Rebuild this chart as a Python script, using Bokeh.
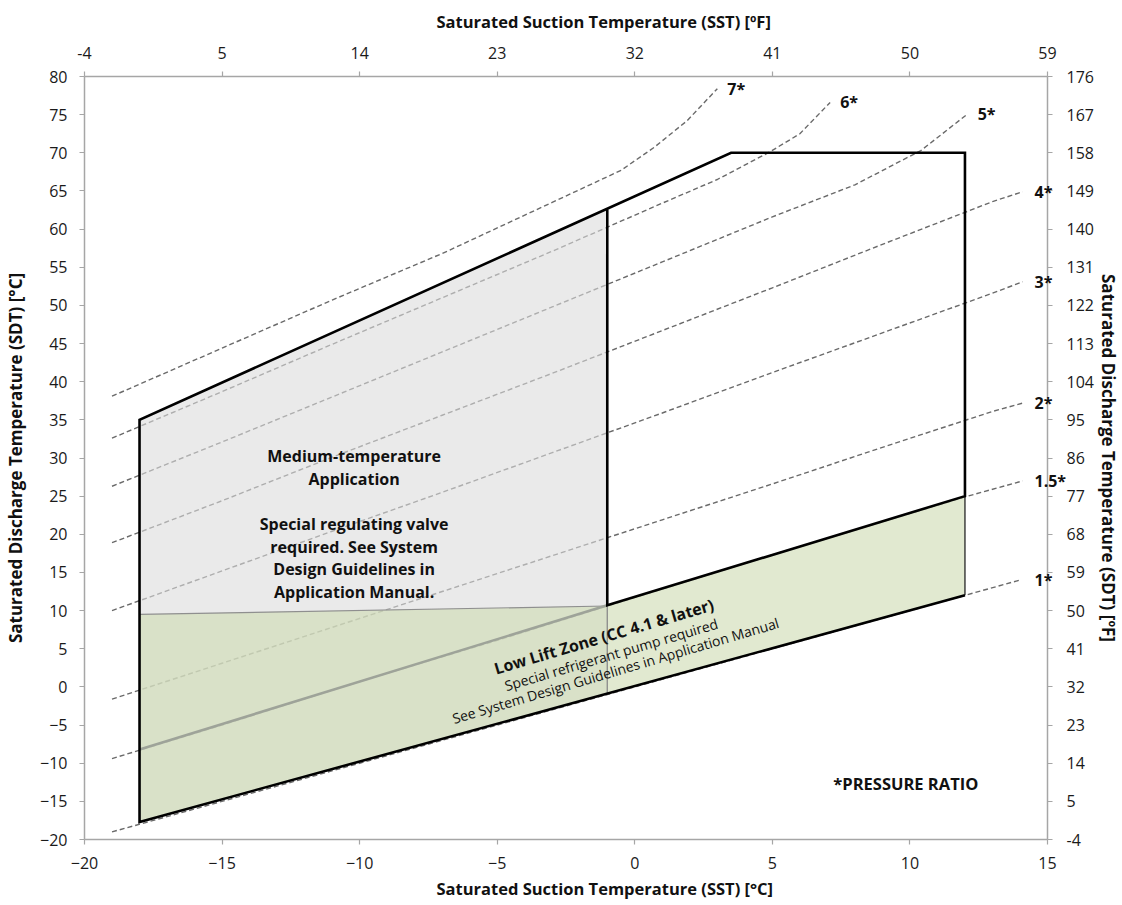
from bokeh.plotting import figure
from bokeh.models import LinearAxis, FixedTicker, LabelSet, ColumnDataSource, Range1d, Title
from bokeh.core.properties import value
from bokeh.embed import file_html
from bokeh.resources import INLINE

FONT = "Open Sans"

# Axis ticks in °C with the matching °F labels
sst_ticks_c = [-20, -15, -10, -5, 0, 5, 10, 15]
sst_ticks_f = ["-4", "5", "14", "23", "32", "41", "50", "59"]
sdt_ticks_c = [-20, -15, -10, -5, 0, 5, 10, 15, 20, 25, 30, 35, 40, 45, 50, 55, 60, 65, 70, 75, 80]
sdt_ticks_f = ["-4", "5", "14", "23", "32", "41", "50", "59", "68", "77", "86", "95",
               "104", "113", "122", "131", "140", "149", "158", "167", "176"]

# Operating envelope outline (SST, SDT in °C)
env_sst = [12, -18, -18, 3.5, 12, 12, -1, -1]
env_sdt = [12, -17.7, 35, 70, 70, 25, 10.7, 62.7]

# Medium-temperature application region
mt_sst = [-18, -1, -1, -18]
mt_sdt = [35, 62.7, -0.8, -17.7]

# Low lift zone
ll_sst = [-18, -1, 12, 12, -18]
ll_sdt = [9.5, 10.6, 25, 12, -17.7]

# Pressure ratio curves
pr7_sst = [-19, -15, -11, -7, -3, -0.5, 0.7, 1.9, 3.0]
pr7_sdt = [38.1, 44.4, 50.7, 56.8, 63.5, 67.7, 70.7, 74.2, 78.4]
pr6_sst = [-19, -15, -11, -7, -3, 1, 3, 4.9, 6.0, 7.1]
pr6_sdt = [32.6, 38.7, 44.9, 51.0, 57.1, 63.4, 66.5, 70.1, 72.5, 76.6]
pr5_sst = [-19, -15, -11, -7, -3, 1, 5, 8, 10.4, 12.1]
pr5_sdt = [26.3, 32.1, 38.0, 43.9, 49.8, 55.7, 61.6, 65.8, 70.3, 75.1]
pr4_sst = [-19, -15, -11, -7, -3, 1, 5, 9, 13, 14.1]
pr4_sdt = [18.9, 24.4, 30.1, 35.6, 41.1, 46.7, 52.3, 58.0, 63.6, 64.9]
pr3_sst = [-19, -15, -11, -7, -3, 1, 5, 9, 13, 14.1]
pr3_sdt = [10.0, 15.2, 20.4, 25.5, 30.7, 35.9, 41.2, 46.4, 51.6, 53.1]
pr2_sst = [-19, -15, -11, -7, -3, 1, 5, 9, 13, 14.1]
pr2_sdt = [-1.6, 3.1, 7.8, 12.5, 17.2, 21.9, 26.6, 31.4, 36.1, 37.2]
pr15_sst = [-19, -15, -10, -5, -1, 5, 12, 14.1]
pr15_sdt = [-9.4, -5.0, 0.7, 6.1, 10.6, 17.3, 24.9, 27.0]
pr1_sst = [-19, 14.0]
pr1_sdt = [-19, 14.0]

# Curves ending inside the frame, and curves ending at the right edge
inner_labels = ["7*", "6*", "5*"]
inner_curves = [(pr7_sst, pr7_sdt), (pr6_sst, pr6_sdt), (pr5_sst, pr5_sdt)]
edge_labels = ["4*", "3*", "2*", "1.5*", "1*"]
edge_curves = [(pr4_sst, pr4_sdt), (pr3_sst, pr3_sdt), (pr2_sst, pr2_sdt),
               (pr15_sst, pr15_sdt), (pr1_sst, pr1_sdt)]

p = figure(width=1122, height=905, x_range=Range1d(-20, 15), y_range=Range1d(-20, 80),
           output_backend="svg", toolbar_location=None,
           min_border_left=84, min_border_right=74, min_border_top=76, min_border_bottom=66)
p.title.visible = False
p.xgrid.visible = False
p.ygrid.visible = False
p.outline_line_color = None
p.background_fill_color = "white"
p.border_fill_color = "white"


def style_axis(ax, standoff, label_standoff):
    ax.axis_line_color = "#a6a6a6"
    ax.axis_line_width = 1.5
    ax.major_tick_line_color = "#a6a6a6"
    ax.major_tick_line_width = 1.2
    ax.major_tick_out = 5
    ax.major_tick_in = 0
    ax.minor_tick_line_color = None
    ax.major_label_text_font = FONT
    ax.major_label_text_font_size = "16px"
    ax.major_label_text_color = "#1a1a1a"
    ax.major_label_standoff = standoff
    ax.axis_label_text_font = FONT
    ax.axis_label_text_font_style = "bold"
    ax.axis_label_text_font_size = "17px"
    ax.axis_label_text_color = "#111111"
    ax.axis_label_standoff = label_standoff


xb = p.xaxis[0]
xb.ticker = FixedTicker(ticks=sst_ticks_c)
style_axis(xb, 12, 0)

yl = p.yaxis[0]
yl.ticker = FixedTicker(ticks=sdt_ticks_c)
yl.axis_label = "Saturated Discharge Temperature (SDT) [°C]"
style_axis(yl, 12, 10)

xt = LinearAxis(ticker=FixedTicker(ticks=sst_ticks_c),
                major_label_overrides=dict(zip(sst_ticks_c, sst_ticks_f)))
style_axis(xt, 13, 0)
p.add_layout(xt, "above")

yr = LinearAxis(ticker=FixedTicker(ticks=sdt_ticks_c),
                major_label_overrides=dict(zip(sdt_ticks_c, sdt_ticks_f)))
yr.axis_label = "Saturated Discharge Temperature (SDT) [ºF]"
style_axis(yr, 14, 0)
p.add_layout(yr, "right")

# Names of the curves that run out to the right edge, set beside their ends
edge_y = [c[1][-1] for c in edge_curves]
curve_axis = LinearAxis(ticker=FixedTicker(ticks=edge_y),
                        major_label_overrides=dict(zip(edge_y, edge_labels)))
curve_axis.axis_line_color = None
curve_axis.major_tick_line_color = None
curve_axis.minor_tick_line_color = None
curve_axis.major_tick_out = 0
curve_axis.major_tick_in = 0
curve_axis.major_label_standoff = -88
curve_axis.major_label_text_font = FONT
curve_axis.major_label_text_font_style = "bold"
curve_axis.major_label_text_font_size = "16px"
curve_axis.major_label_text_color = "#111111"
p.add_layout(curve_axis, "right")

# Horizontal axis titles
title_style = dict(align="left", offset=352, text_font=FONT, text_font_style="bold",
                   text_font_size="16.5px", text_color="#111111")
p.add_layout(Title(text="Saturated Suction Temperature (SST) [°C]", standoff=7,
                   vertical_align="bottom", **title_style), "below")
p.add_layout(Title(text="Saturated Suction Temperature (SST) [ºF]", standoff=17,
                   vertical_align="top", **title_style), "above")

# Pressure ratio curves (drawn beneath the shaded regions)
for xs, ys in inner_curves + edge_curves:
    p.line(xs, ys, line_color="#6a6a6a", line_width=1.4, line_dash="5 3")

# Shaded regions
p.patch(mt_sst, mt_sdt, fill_color="#dcdcdc", fill_alpha=0.6, line_color=None)
p.patch(ll_sst, ll_sdt, fill_color="#cddbb0", fill_alpha=0.6, line_color=None)

# Region borders
p.line([ll_sst[0], ll_sst[1]], [ll_sdt[0], ll_sdt[1]], line_color="#8f8f8f", line_width=1.2)
p.line([-18, -1], [-8.2, 10.7], line_color="#9ea399", line_width=2.6)
p.line([-1, -1], [10.7, -0.8], line_color="#8a8a8a", line_width=1.3)
p.line([12, 12], [25, 12], line_color="#333333", line_width=1.4)
p.line(env_sst, env_sdt, line_color="black", line_width=2.6, line_join="miter")

# Names of the curves that end inside the frame
lab_src = ColumnDataSource(dict(x=[c[0][-1] for c in inner_curves],
                                y=[c[1][-1] for c in inner_curves], text=inner_labels))
p.add_layout(LabelSet(x="x", y="y", text="text", source=lab_src, x_offset=10,
                      text_align="left", text_baseline="middle", text_font=value(FONT),
                      text_font_style="bold", text_font_size="16px", text_color="#111111"))

# Region annotations
mt_lines = ["Medium-temperature", "Application", "Special regulating valve",
            "required. See System", "Design Guidelines in", "Application Manual."]
mt_y = [30.3, 27.3, 21.4, 18.4, 15.4, 12.4]
p.text(x=[-10.2] * len(mt_lines), y=mt_y, text=mt_lines, text_font=value(FONT),
       text_font_style="bold", text_font_size="16px", text_align="center",
       text_baseline="middle", text_color="#111111")

p.text(x=[-1.12], y=[6.6], text=["Low Lift Zone (CC 4.1 & later)"], angle=16.5, angle_units="deg",
       text_font=value(FONT), text_font_style="bold", text_font_size="16px",
       text_align="center", text_baseline="middle", text_color="#111111")
p.text(x=[-0.86, -0.70], y=[4.25, 2.15],
       text=["Special refrigerant pump required", "See System Design Guidelines in Application Manual"],
       angle=16.5, angle_units="deg", text_font=value(FONT), text_font_size="14px",
       text_align="center", text_baseline="middle", text_color="#111111")

p.text(x=[9.85], y=[-12.66], text=["*PRESSURE RATIO"], text_font=value(FONT),
       text_font_style="bold", text_font_size="16.5px", text_align="center",
       text_baseline="middle", text_color="#111111")

open("out.html", "w").write(file_html(p, INLINE))
